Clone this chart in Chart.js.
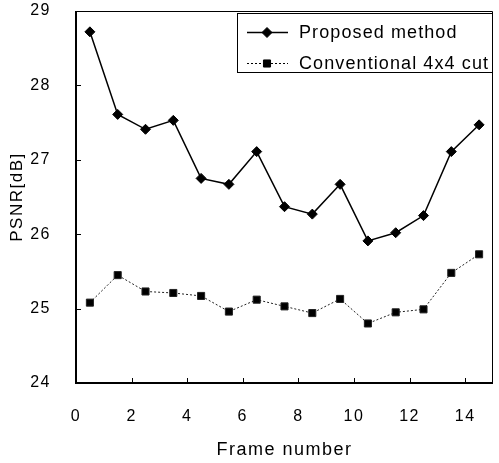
<!DOCTYPE html>
<html>
<head>
<meta charset="utf-8">
<script src="https://cdn.jsdelivr.net/npm/chart.js@4/dist/chart.umd.min.js"></script>
<style>
  html, body { margin: 0; padding: 0; background: #fff; }
  #wrap { width: 499px; height: 463px; }
</style>
</head>
<body>
<div id="wrap"><canvas id="psnrChart" width="499" height="463"></canvas></div>
<script>
// frame positions (x) and PSNR values
const frames = [0.5, 1.5, 2.5, 3.5, 4.5, 5.5, 6.5, 7.5, 8.5, 9.5, 10.5, 11.5, 12.5, 13.5, 14.5];
const proposed = [28.72, 27.61, 27.41, 27.53, 26.75, 26.67, 27.11, 26.37, 26.27, 26.67, 25.91, 26.02, 26.25, 27.11, 27.47];
const conventional = [25.08, 25.45, 25.23, 25.21, 25.17, 24.96, 25.12, 25.03, 24.94, 25.13, 24.80, 24.95, 24.99, 25.48, 25.73];
const xTicks = [0, 2, 4, 6, 8, 10, 12, 14];
const yTicks = [24, 25, 26, 27, 28, 29];
const seriesNames = ['Proposed method', 'Conventional 4x4 cut'];

const FONT = '"Liberation Sans", Arial, Helvetica, sans-serif';

// frame, inner tick marks and the boxed legend
const framePlugin = {
    id: 'framePlugin',
    beforeDraw(chart) {
        chart.ctx.letterSpacing = '1.5px';
    },
    afterDatasetsDraw(chart) {
        const ctx = chart.ctx;
        const a = chart.chartArea;
        const xs = chart.scales.x, ys = chart.scales.y;
        ctx.save();
        ctx.strokeStyle = '#000';
        // top and right: thin
        ctx.lineWidth = 1;
        ctx.beginPath();
        ctx.moveTo(a.left, a.top + 0.5);
        ctx.lineTo(a.right - 0.5, a.top + 0.5);
        ctx.lineTo(a.right - 0.5, a.bottom);
        ctx.stroke();
        // left and bottom: heavier
        ctx.lineWidth = 2;
        ctx.beginPath();
        ctx.moveTo(a.left, a.top);
        ctx.lineTo(a.left, a.bottom);
        ctx.lineTo(a.right, a.bottom);
        ctx.stroke();
        // inner ticks
        ctx.lineWidth = 1;
        ctx.beginPath();
        xs.ticks.forEach(t => {
            const px = Math.round(xs.getPixelForValue(t.value)) + 0.5;
            ctx.moveTo(px, a.bottom);
            ctx.lineTo(px, a.bottom - 5);
        });
        ys.ticks.forEach(t => {
            const py = Math.round(ys.getPixelForValue(t.value)) + 0.5;
            ctx.moveTo(a.left, py);
            ctx.lineTo(a.left + 5, py);
        });
        ctx.stroke();

        // legend box
        const lx = 237, ly = 13, lw = a.right - 237, lh = 60;
        ctx.fillStyle = '#fff';
        ctx.fillRect(lx, ly, lw, lh);
        ctx.strokeStyle = '#000';
        ctx.lineWidth = 1;
        ctx.strokeRect(lx + 0.5, ly + 0.5, lw - 1, lh - 1);
        const rows = [32, 63];
        chart.data.datasets.forEach((ds, i) => {
            const y = rows[i];
            ctx.save();
            ctx.strokeStyle = '#000';
            ctx.lineWidth = ds.borderWidth;
            ctx.setLineDash(ds.borderDash || []);
            ctx.beginPath();
            ctx.moveTo(247, y + 0.5);
            ctx.lineTo(288, y + 0.5);
            ctx.stroke();
            ctx.restore();
            ctx.fillStyle = '#000';
            ctx.strokeStyle = '#000';
            Chart.helpers.drawPoint(ctx, {
                pointStyle: ds.pointStyle,
                radius: ds.pointRadius,
                borderWidth: 1,
                rotation: 0
            }, 267, y + 0.5);
            ctx.fillStyle = '#000';
            ctx.font = '18px ' + FONT;
            ctx.letterSpacing = '1.1px';
            ctx.textBaseline = 'middle';
            ctx.textAlign = 'left';
            ctx.fillText(ds.label, 299, y + 1);
        });
        ctx.restore();
    }
};

new Chart(document.getElementById('psnrChart'), {
    type: 'line',
    data: {
        datasets: [
            {
                label: seriesNames[0],
                data: frames.map((x, i) => ({ x: x, y: proposed[i] })),
                borderColor: '#000',
                backgroundColor: '#000',
                borderWidth: 1.5,
                pointStyle: 'rectRot',
                pointRadius: 5,
                pointBorderWidth: 1,
                tension: 0
            },
            {
                label: seriesNames[1],
                data: frames.map((x, i) => ({ x: x, y: conventional[i] })),
                borderColor: '#222',
                backgroundColor: '#000',
                borderWidth: 1,
                borderDash: [2, 2],
                pointStyle: 'rect',
                pointRadius: 5,
                pointBorderWidth: 1,
                tension: 0
            }
        ]
    },
    options: {
        responsive: false,
        animation: false,
        events: [],
        layout: { padding: { top: 11, right: 3, left: 0, bottom: 0 } },
        plugins: { legend: { display: false }, tooltip: { enabled: false } },
        scales: {
            x: {
                type: 'linear',
                min: 0,
                max: 15,
                afterBuildTicks: s => { s.ticks = xTicks.map(v => ({ value: v })); },
                afterFit: s => { s.height = 80; s.paddingLeft = 0; s.paddingRight = 0; },
                grid: { display: false, drawTicks: false },
                border: { display: false },
                ticks: { color: '#000', padding: 24, font: { family: FONT, size: 16 } },
                title: {
                    display: true,
                    text: 'Frame number',
                    color: '#000',
                    padding: { top: 0, bottom: 2 },
                    font: { family: FONT, size: 18 }
                }
            },
            y: {
                min: 24,
                max: 29,
                afterBuildTicks: s => { s.ticks = yTicks.map(v => ({ value: v })); },
                afterFit: s => { s.width = 76; s.paddingTop = 0; s.paddingBottom = 0; },
                grid: { display: false, drawTicks: false },
                border: { display: false },
                ticks: { color: '#000', padding: 25, font: { family: FONT, size: 16 } },
                title: {
                    display: true,
                    text: 'PSNR[dB]',
                    color: '#000',
                    padding: { top: 7, bottom: 0 },
                    font: { family: FONT, size: 17 }
                }
            }
        }
    },
    plugins: [framePlugin]
});
</script>
</body>
</html>
